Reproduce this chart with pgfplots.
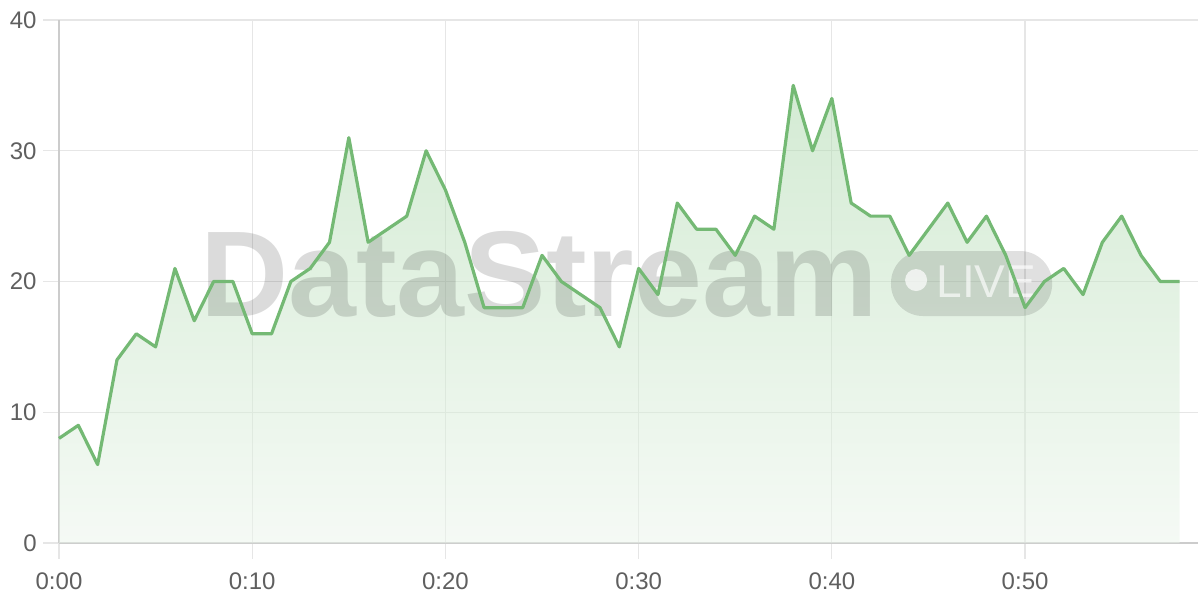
\documentclass[border=0pt]{standalone}
\usepackage{fontspec}
\setmainfont{Liberation Sans}
\usepackage{pgfplots}
\pgfplotsset{compat=1.18}
\definecolor{linegreen}{RGB}{116,185,116}
\definecolor{filltop}{RGB}{169,215,169}
\definecolor{fillbot}{RGB}{235,245,235}
\definecolor{gridc}{RGB}{230,230,230}
\definecolor{axisc}{RGB}{204,204,204}
\definecolor{labc}{RGB}{95,95,95}
\begin{document}
\begin{tikzpicture}
\begin{axis}[
  scale only axis,
  width=569.5pt, height=261.5pt,
  xmin=0, xmax=58.95, ymin=0, ymax=40,
  axis x line*=bottom, axis y line*=left,
  axis line style={axisc, line width=0.6pt},
  x axis line style={-}, y axis line style={-},
  xtick={0,10,20,30,40,50},
  xticklabels={0:00,0:10,0:20,0:30,0:40,0:50},
  ytick={0,10,20,30,40},
  grid=major,
  major grid style={gridc, line width=0.6pt},
  tick align=outside,
  major tick length=8pt,
  tick style={gridc, line width=0.6pt},
  tick label style={font=\fontsize{12}{14}\selectfont, text=labc},
  /pgf/number format/assume math mode=true,
  xticklabel style={anchor=north, inner sep=0pt, yshift=-6.5pt},
  yticklabel style={anchor=east, inner sep=0pt, xshift=-3pt},
  clip=false,
]
\coordinate (sw) at (rel axis cs:0,0);
\coordinate (ne) at (rel axis cs:1,1);
\addplot[draw=none, top color=filltop, bottom color=fillbot, fill opacity=0.5] coordinates {
(0,8) (1,9) (2,6) (3,14) (4,16) (5,15) (6,21) (7,17) (8,20) (9,20)
(10,16) (11,16) (12,20) (13,21) (14,23) (15,31) (16,23) (17,24) (18,25) (19,30)
(20,27) (21,23) (22,18) (23,18) (24,18) (25,22) (26,20) (27,19) (28,18) (29,15)
(30,21) (31,19) (32,26) (33,24) (34,24) (35,22) (36,25) (37,24) (38,35) (39,30)
(40,34) (41,26) (42,25) (43,25) (44,22) (45,24) (46,26) (47,23) (48,25) (49,22)
(50,18) (51,20) (52,21) (53,19) (54,23) (55,25) (56,22) (57,20) (58,20)
} \closedcycle;
% watermark
\node[anchor=base west, inner sep=0pt, font=\fontsize{61}{62}\bfseries\selectfont, text=black, text opacity=0.14] at (axis cs:7.3,17.36) {DataStream};
\fill[black, fill opacity=0.12, rounded corners=16pt] (axis cs:43.06,17.36) rectangle (axis cs:51.4,22.33);
\fill[white, fill opacity=0.7] (axis cs:44.36,20.11) circle[radius=5.5pt];
\node[anchor=base west, inner sep=0pt, font=\fontsize{23}{24}\selectfont, text=white, text opacity=0.65] at (axis cs:45.4,18.74) {LIVE};
\addplot[linegreen, line width=1.6pt, line join=round, mark=none] coordinates {
(0,8) (1,9) (2,6) (3,14) (4,16) (5,15) (6,21) (7,17) (8,20) (9,20)
(10,16) (11,16) (12,20) (13,21) (14,23) (15,31) (16,23) (17,24) (18,25) (19,30)
(20,27) (21,23) (22,18) (23,18) (24,18) (25,22) (26,20) (27,19) (28,18) (29,15)
(30,21) (31,19) (32,26) (33,24) (34,24) (35,22) (36,25) (37,24) (38,35) (39,30)
(40,34) (41,26) (42,25) (43,25) (44,22) (45,24) (46,26) (47,23) (48,25) (49,22)
(50,18) (51,20) (52,21) (53,19) (54,23) (55,25) (56,22) (57,20) (58,20)
};
\end{axis}
\pgfresetboundingbox
\path[use as bounding box] ([shift={(-29.5pt,-28.5pt)}]sw) rectangle ([shift={(1pt,10pt)}]ne);
\end{tikzpicture}
\end{document}
